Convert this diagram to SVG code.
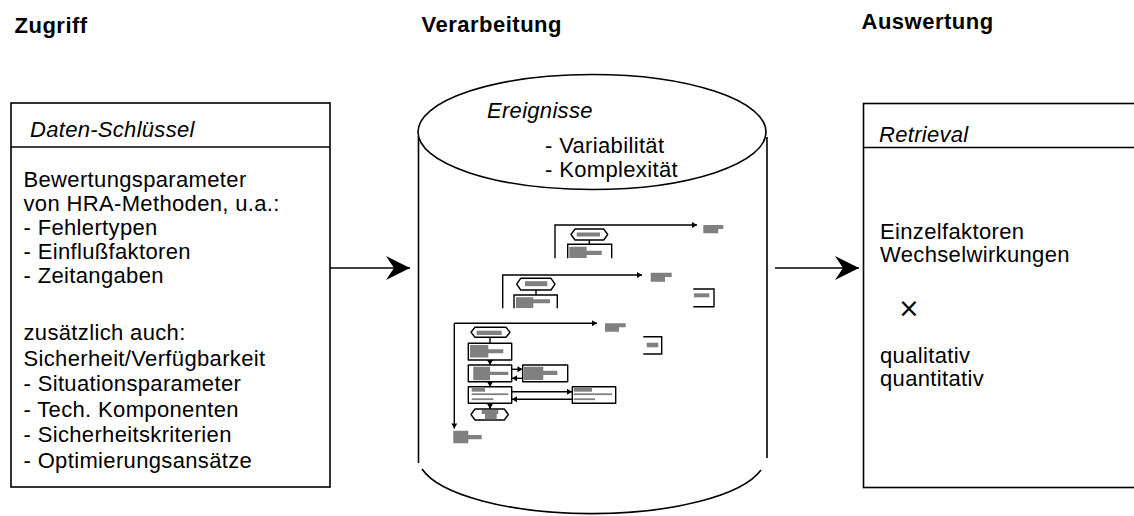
<svg xmlns="http://www.w3.org/2000/svg" width="1134" height="516" viewBox="0 0 1134 516">
  <style>
    text { font-family: "Liberation Sans", Arial, sans-serif; fill: #000; }
    .head { font-size: 22px; font-weight: bold; letter-spacing: 0.5px; }
    .body { font-size: 22px; letter-spacing: 0.35px; }
    .ital { font-size: 22px; font-style: italic; letter-spacing: 0.3px; }
    .times { font-family: "DejaVu Sans", sans-serif; font-size: 26px; }
    .frame { fill: #fff; stroke: #000; stroke-width: 1.6; }
    .edge { fill: none; stroke: #000; stroke-width: 1.6; }
    .link { fill: none; stroke: #000; stroke-width: 1.6; }
    .mini { fill: none; stroke: #000; stroke-width: 1.4; }
    .mbox { fill: #fff; stroke: #000; stroke-width: 1.4; stroke-linejoin: round; }
    .grey { fill: #808080; }
  </style>
  <defs>
    <marker id="bigHead" markerUnits="userSpaceOnUse" markerWidth="26" markerHeight="26" viewBox="-25 -13 26 26" refX="0" refY="0" orient="auto">
      <path d="M0,0 L-24,-12 L-16,0 L-24,12 Z" fill="#000"/>
    </marker>
    <marker id="tinyHead" markerUnits="userSpaceOnUse" markerWidth="7" markerHeight="7" viewBox="-6 -3.5 7 7" refX="0" refY="0" orient="auto">
      <path d="M0,0 L-5,-3 L-5,3 Z" fill="#000"/>
    </marker>
  </defs>

  <rect width="1134" height="516" fill="#fff"/>

  <!-- column titles -->
  <g id="titles">
    <text class="head" x="14.5" y="33">Zugriff</text>
    <text class="head" x="421.5" y="32">Verarbeitung</text>
    <text class="head" x="861.5" y="28.5">Auswertung</text>
  </g>

  <!-- access: data keys -->
  <g id="zugriff">
    <rect class="frame" x="11" y="103" width="319" height="384"/>
    <line class="edge" x1="11" y1="147" x2="330" y2="147"/>
    <text class="ital" x="30" y="137">Daten-Schlüssel</text>
    <text class="body" x="23.5">
      <tspan x="23.5" y="187">Bewertungsparameter</tspan>
      <tspan x="23.5" y="211">von HRA-Methoden, u.a.:</tspan>
      <tspan x="23.5" y="235">- Fehlertypen</tspan>
      <tspan x="23.5" y="259">- Einflußfaktoren</tspan>
      <tspan x="23.5" y="283">- Zeitangaben</tspan>
      <tspan x="23.5" y="340">zusätzlich auch:</tspan>
      <tspan x="23.5" y="365.5">Sicherheit/Verfügbarkeit</tspan>
      <tspan x="23.5" y="391">- Situationsparameter</tspan>
      <tspan x="23.5" y="416.5">- Tech. Komponenten</tspan>
      <tspan x="23.5" y="442">- Sicherheitskriterien</tspan>
      <tspan x="23.5" y="467.5">- Optimierungsansätze</tspan>
    </text>
  </g>

  <!-- processing: event database -->
  <g id="ereignisse">
    <line class="edge" x1="418.5" y1="136" x2="418.5" y2="463"/>
    <line class="edge" x1="767" y1="137" x2="767" y2="458"/>
    <path class="edge" d="M422,469 A174,57 0 0 0 761,470"/>
    <ellipse class="frame" cx="592" cy="132" rx="174" ry="57.5"/>
    <text class="ital" x="487" y="118">Ereignisse</text>
    <text class="body" x="545" y="153">- Variabilität</text>
    <text class="body" x="545" y="177">- Komplexität</text>
  </g>

  <!-- stacked flow charts stored in the database -->
  <g id="flowcharts">
    <!-- back sheet -->
    <g id="sheet-back">
      <polyline class="mini" points="555,258.3 555,225 697,225" marker-end="url(#tinyHead)"/>
      <path class="grey" d="M703.3,225 H723.3 V229 H718.3 V233.3 H703.3 Z"/>
      <path class="mbox" d="M575,229 H603.7 L607.7,234.5 L603.7,240 H575 L571,234.5 Z"/>
      <rect class="grey" x="576.7" y="232.5" width="23.3" height="4"/>
      <line class="mini" x1="589.3" y1="240" x2="589.3" y2="244.3" stroke-width="2.2"/>
      <path class="mini" d="M567.7,258.3 V244.3 H611.7 V258.3"/>
      <path class="grey" d="M569.3,246.7 H586.7 V250.7 H601.7 V255 H586.7 V258 H569.3 Z"/>
    </g>
    <!-- middle sheet -->
    <g id="sheet-middle">
      <polyline class="mini" points="502.7,308.3 502.7,275 642,275" marker-end="url(#tinyHead)"/>
      <path class="grey" d="M650.7,272.7 H671.7 V277 H665 V281.7 H650.7 Z"/>
      <path class="mbox" d="M520.7,278.3 H551 L555,284.2 L551,290 H520.7 L516.7,284.2 Z"/>
      <rect class="grey" x="525" y="281.2" width="22.3" height="5"/>
      <line class="mini" x1="536" y1="290" x2="536" y2="295" stroke-width="2.2"/>
      <path class="mini" d="M514,308.3 V295 H557.3 V308.3"/>
      <path class="grey" d="M516,297.3 H533.3 V299.3 H550 V303.3 H533.3 V308 H516 Z"/>
      <path class="mini" d="M693.3,289 H714 V306.7 H693.3"/>
      <rect class="grey" x="694" y="293.3" width="15.3" height="4"/>
    </g>
    <!-- front sheet -->
    <g id="sheet-front">
      <polyline class="mini" points="454.3,323.3 597,323.3" marker-end="url(#tinyHead)"/>
      <line class="mini" x1="454.3" y1="323.3" x2="454.3" y2="428.5" marker-end="url(#tinyHead)"/>
      <path class="grey" d="M605,323.3 H625.7 V327.3 H619 V331.7 H605 Z"/>
      <path class="grey" d="M453.3,430.7 H468.3 V435 H481.7 V439.3 H468.3 V443.3 H453.3 Z"/>
      <path class="mini" d="M643.3,336.7 H661.7 V354 H643.3"/>
      <rect class="grey" x="646.7" y="342.7" width="11.6" height="4.6"/>

      <!-- start terminator -->
      <path class="mbox" d="M475,327.3 H506 L510,332.3 L506,337.3 H475 L471,332.3 Z"/>
      <rect class="grey" x="476.7" y="330.7" width="25" height="4.3"/>
      <line class="mini" x1="490" y1="337.3" x2="490" y2="343.3" stroke-width="2.2"/>

      <!-- step 1 -->
      <rect class="mbox" x="468.3" y="343.3" width="43.4" height="16.7"/>
      <path class="grey" d="M470,345 H488.3 V349.3 H503.3 V353.3 H488.3 V357.5 H470 Z"/>
      <line class="mini" x1="490" y1="360" x2="490" y2="365" marker-end="url(#tinyHead)"/>

      <!-- step 2 with side branch -->
      <rect class="mbox" x="468.3" y="365" width="43.4" height="16.7"/>
      <path class="grey" d="M473.3,366.7 H490 V371.7 H508.3 V375 H490 V380.2 H473.3 Z"/>
      <rect class="mbox" x="522.7" y="365" width="45" height="16.7"/>
      <path class="grey" d="M524,366.7 H543.3 V370.7 H557.3 V375 H543.3 V380 H524 Z"/>
      <line class="mini" x1="511.7" y1="369.3" x2="522.5" y2="369.3" marker-end="url(#tinyHead)"/>
      <line class="mini" x1="522.7" y1="378.3" x2="512" y2="378.3" marker-end="url(#tinyHead)"/>
      <line class="mini" x1="490" y1="381.7" x2="490" y2="386.7" marker-end="url(#tinyHead)"/>

      <!-- step 3 with side branch -->
      <rect class="mbox" x="468.3" y="386.7" width="43.4" height="16.6"/>
      <rect class="grey" x="471.7" y="387.7" width="13.3" height="4"/>
      <rect class="grey" x="471.7" y="393.3" width="36.6" height="1.8"/>
      <rect class="grey" x="471.7" y="398.3" width="21.6" height="1.8"/>
      <rect class="mbox" x="572.3" y="386.7" width="43.4" height="16.6"/>
      <rect class="grey" x="573.7" y="387.7" width="18.3" height="4"/>
      <rect class="grey" x="573.7" y="393.3" width="38.3" height="1.8"/>
      <rect class="grey" x="573.7" y="398.3" width="21.3" height="1.8"/>
      <line class="mini" x1="511.7" y1="391.7" x2="572" y2="391.7" marker-end="url(#tinyHead)"/>
      <line class="mini" x1="572.3" y1="399.3" x2="512" y2="399.3" marker-end="url(#tinyHead)"/>
      <line class="mini" x1="490" y1="403.3" x2="490" y2="408.8" marker-end="url(#tinyHead)"/>

      <!-- end terminator -->
      <path class="mbox" d="M475,409 H504.3 L508.3,414.5 L504.3,420 H475 L471,414.5 Z"/>
      <rect class="grey" x="481.7" y="410" width="16.6" height="4"/>
      <rect class="grey" x="485" y="414" width="11.7" height="5.3"/>
    </g>
  </g>

  <!-- evaluation: retrieval -->
  <g id="retrieval">
    <rect class="frame" x="863.5" y="103.5" width="290" height="384"/>
    <line class="edge" x1="863.5" y1="147.5" x2="1134" y2="147.5"/>
    <text class="ital" x="879" y="142">Retrieval</text>
    <text class="body" x="880" y="239" letter-spacing="0.45">Einzelfaktoren</text>
    <text class="body" x="880" y="262" letter-spacing="0.45">Wechselwirkungen</text>
    <text class="times" x="898" y="317">×</text>
    <text class="body" x="880" y="363">qualitativ</text>
    <text class="body" x="880" y="386">quantitativ</text>
  </g>

  <!-- flow between the stages -->
  <g id="connectors">
    <line class="link" x1="330" y1="268" x2="410" y2="268" marker-end="url(#bigHead)"/>
    <line class="link" x1="775" y1="268" x2="859" y2="268" marker-end="url(#bigHead)"/>
  </g>
</svg>
